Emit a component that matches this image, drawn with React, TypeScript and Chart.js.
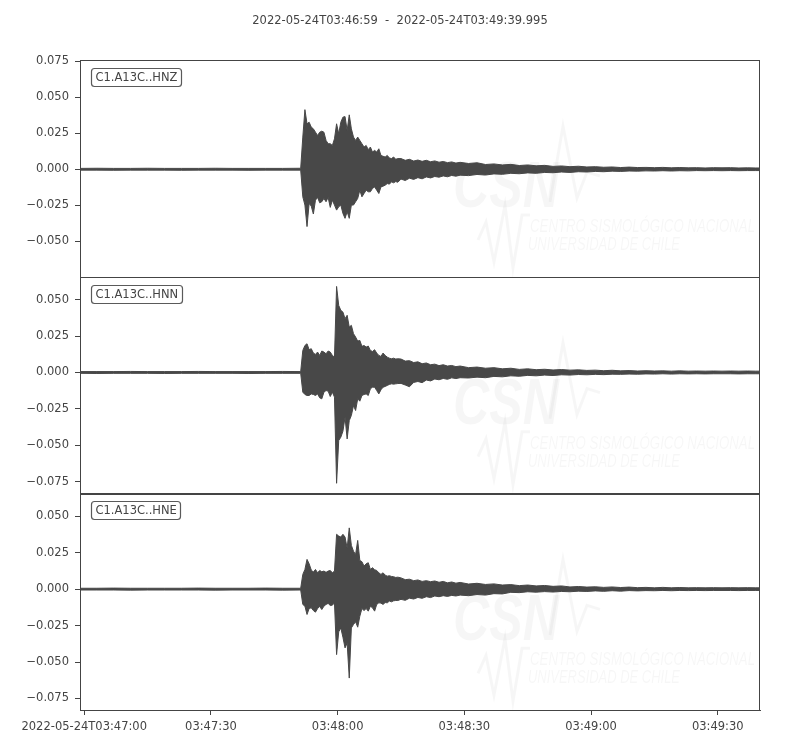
import React, { useEffect, useRef } from "react";
import { Chart, registerables } from "chart.js";

Chart.register(...registerables);

// ---------------- data ----------------
const TITLE = "2022-05-24T03:46:59  -  2022-05-24T03:49:39.995";
const CHANNELS = ["C1.A13C..HNZ", "C1.A13C..HNN", "C1.A13C..HNE"];

// seconds after 2022-05-24T03:46:59
const X_MAX_S = 160.995;
const X_TICK_S = [1, 31, 61, 91, 121, 151];
const X_TICK_LABELS = [
  "2022-05-24T03:47:00",
  "03:47:30",
  "03:48:00",
  "03:48:30",
  "03:49:00",
  "03:49:30",
];

const Y_TICKS_HNZ = [0.075, 0.05, 0.025, 0, -0.025, -0.05];
const Y_TICKS_HNN = [0.05, 0.025, 0, -0.025, -0.05, -0.075];
const Y_TICKS_HNE = [0.05, 0.025, 0, -0.025, -0.05, -0.075];
const Y_LIMITS_HNZ = [-0.0744, 0.0757];
const Y_LIMITS_HNN = [-0.0829, 0.0657];
const Y_LIMITS_HNE = [-0.0829, 0.0657];

// sample times (s) of the min/max envelope
const TIME_S = [
  0, 4, 8, 12, 16, 20, 24, 28, 32, 36, 40, 44, 48, 52.25,
  52.75, 53.25, 53.75, 54.25, 54.75, 55.25, 55.75, 56.25, 56.75, 57.25,
  57.75, 58.25, 58.75, 59.25, 59.75, 60.25, 60.75, 61.25, 61.75, 62.25,
  62.75, 63.25, 63.75, 64.25, 64.75, 65.25, 65.75, 66.25, 66.75, 67.25,
  67.75, 68.25, 68.75, 69.25, 69.75, 70.25, 70.75, 71.25, 71.75, 72.25,
  72.75, 73.25, 73.75, 74.25, 74.75, 75.25,
  76, 77, 78, 79, 80, 81, 82, 83, 84, 85, 86, 87, 88, 89, 90,
  92, 94, 96, 98, 100, 102, 104, 106, 108, 110,
  112, 114, 116, 118, 120, 122, 124, 126, 128, 130,
  132, 134, 136, 138, 140, 142, 144, 146, 148, 150,
  152, 154, 156, 158, 160, 161,
];

const HNZ_UP = [
  0.0006, 0.0007, 0.0006, 0.0006, 0.0007, 0.0006, 0.0006, 0.0006, 0.0007, 0.0006, 0.0006, 0.0006, 0.0006, 0.0007,
  0.0223, 0.0413, 0.0315, 0.0326, 0.0292, 0.028, 0.0257, 0.0234, 0.0257, 0.0264,
  0.0257, 0.02, 0.0177, 0.0177, 0.0165, 0.0211, 0.0315, 0.0246, 0.0326, 0.0361,
  0.0365, 0.0269, 0.0377, 0.028, 0.0223, 0.02, 0.0223, 0.02, 0.0177, 0.0154,
  0.0165, 0.0136, 0.0154, 0.0119, 0.0131, 0.0119, 0.0142, 0.0096, 0.009, 0.0085,
  0.0096, 0.0078, 0.0074, 0.0085, 0.0069, 0.0074,
  0.0074, 0.0062, 0.0069, 0.0057, 0.0064, 0.0055, 0.0062, 0.0052, 0.0058, 0.0049, 0.0054, 0.0046, 0.0051, 0.0043, 0.0048,
  0.004, 0.0045, 0.0033, 0.0037, 0.003, 0.0034, 0.0026, 0.003, 0.0024, 0.0027,
  0.002, 0.0023, 0.0018, 0.0021, 0.0016, 0.0018, 0.0014, 0.0016, 0.0012, 0.0015,
  0.0012, 0.0013, 0.0011, 0.0013, 0.001, 0.0012, 0.001, 0.0011, 0.0009, 0.0011,
  0.001, 0.0011, 0.0009, 0.001, 0.0009, 0.0009,
];
const HNZ_LO = [
  -0.0006, -0.0006, -0.0007, -0.0006, -0.0006, -0.0006, -0.0007, -0.0006, -0.0006, -0.0006, -0.0007, -0.0006, -0.0006, -0.0006,
  -0.0191, -0.0248, -0.0397, -0.0237, -0.0255, -0.031, -0.0214, -0.0195, -0.0232, -0.0225,
  -0.0202, -0.0225, -0.0195, -0.0264, -0.0214, -0.0248, -0.0283, -0.026, -0.0248, -0.0306,
  -0.034, -0.0294, -0.034, -0.0248, -0.0248, -0.0225, -0.0202, -0.0145, -0.0191, -0.0168,
  -0.0145, -0.0156, -0.0156, -0.0133, -0.0122, -0.0145, -0.0168, -0.0122, -0.0117, -0.011,
  -0.0099, -0.0103, -0.0087, -0.0094, -0.0085, -0.009,
  -0.0068, -0.0078, -0.0062, -0.007, -0.0058, -0.0066, -0.0053, -0.006, -0.005, -0.0055, -0.0046, -0.0052, -0.0043, -0.0048, -0.0041,
  -0.0044, -0.0036, -0.004, -0.0032, -0.0035, -0.0028, -0.0031, -0.0025, -0.0028, -0.0022,
  -0.0024, -0.0019, -0.0022, -0.0017, -0.0019, -0.0015, -0.0017, -0.0013, -0.0015, -0.0012,
  -0.0013, -0.0011, -0.0012, -0.001, -0.0012, -0.001, -0.0011, -0.0009, -0.001, -0.0009,
  -0.001, -0.0009, -0.001, -0.0009, -0.0009, -0.0009,
];

const HNN_UP = [
  0.0006, 0.0006, 0.0006, 0.0007, 0.0006, 0.0006, 0.0006, 0.0007, 0.0006, 0.0006, 0.0006, 0.0006, 0.0007, 0.0006,
  0.0151, 0.0185, 0.0197, 0.0156, 0.0163, 0.0133, 0.0124, 0.014, 0.0117, 0.0147,
  0.014, 0.0128, 0.0147, 0.014, 0.0117, 0.0105, 0.059, 0.046, 0.0426, 0.0414,
  0.0369, 0.0392, 0.0311, 0.0323, 0.0266, 0.0243, 0.0215, 0.022, 0.0179, 0.0185,
  0.0174, 0.0181, 0.0151, 0.0144, 0.0156, 0.0133, 0.0117, 0.011, 0.0133, 0.0117,
  0.0105, 0.0098, 0.0094, 0.0098, 0.0092, 0.0094,
  0.0092, 0.0078, 0.0081, 0.0068, 0.0073, 0.006, 0.0065, 0.0053, 0.0057, 0.0047, 0.0053, 0.0044, 0.0048, 0.004, 0.0044,
  0.0033, 0.0037, 0.0029, 0.0033, 0.0025, 0.0029, 0.0021, 0.0025, 0.0019, 0.0022,
  0.0017, 0.002, 0.0016, 0.0018, 0.0014, 0.0016, 0.0012, 0.0015, 0.0011, 0.0013,
  0.001, 0.0012, 0.001, 0.0011, 0.0009, 0.0011, 0.0009, 0.001, 0.0009, 0.001,
  0.0009, 0.001, 0.0009, 0.001, 0.0009, 0.0009,
];
const HNN_LO = [
  -0.0006, -0.0007, -0.0006, -0.0006, -0.0006, -0.0007, -0.0006, -0.0006, -0.0006, -0.0006, -0.0007, -0.0006, -0.0006, -0.0006,
  -0.0135, -0.0151, -0.0158, -0.0158, -0.0147, -0.0151, -0.0158, -0.0147, -0.0174, -0.0181,
  -0.0135, -0.0124, -0.0128, -0.0165, -0.0135, -0.0169, -0.076, -0.0467, -0.0444, -0.0403,
  -0.0307, -0.0456, -0.033, -0.0295, -0.0227, -0.0261, -0.0181, -0.0197, -0.0158, -0.0151,
  -0.0147, -0.0158, -0.0112, -0.0101, -0.0101, -0.0124, -0.0147, -0.0119, -0.0101, -0.0096,
  -0.0089, -0.0082, -0.0078, -0.008, -0.0078, -0.0076,
  -0.0075, -0.0086, -0.0098, -0.0068, -0.0062, -0.007, -0.0052, -0.0058, -0.0045, -0.005, -0.0041, -0.0047, -0.0037, -0.0042, -0.0036,
  -0.0038, -0.0032, -0.0036, -0.0027, -0.003, -0.0023, -0.0026, -0.002, -0.0023, -0.0018,
  -0.0021, -0.0016, -0.0018, -0.0014, -0.0016, -0.0013, -0.0015, -0.0012, -0.0013, -0.0011,
  -0.0012, -0.001, -0.0011, -0.0009, -0.0011, -0.0009, -0.001, -0.0009, -0.001, -0.0009,
  -0.0009, -0.0009, -0.001, -0.0009, -0.0009, -0.0009,
];

const HNE_UP = [
  0.0006, 0.0006, 0.0007, 0.0006, 0.0006, 0.0006, 0.0006, 0.0007, 0.0006, 0.0006, 0.0006, 0.0007, 0.0006, 0.0006,
  0.0101, 0.0135, 0.0204, 0.0174, 0.0131, 0.0117, 0.0135, 0.0112, 0.0128, 0.0119,
  0.0124, 0.0115, 0.0124, 0.0128, 0.0112, 0.0124, 0.0376, 0.0364, 0.0357, 0.0376,
  0.0357, 0.028, 0.042, 0.03, 0.026, 0.0238, 0.0334, 0.0197, 0.0188, 0.0158,
  0.0174, 0.0181, 0.0135, 0.0147, 0.0133, 0.0128, 0.0112, 0.0101, 0.0112, 0.0096,
  0.0089, 0.0092, 0.0087, 0.0085, 0.008, 0.0082,
  0.0077, 0.0065, 0.0068, 0.0058, 0.0063, 0.0053, 0.0058, 0.0051, 0.0056, 0.0047, 0.0053, 0.0043, 0.0049, 0.0041, 0.0046,
  0.0035, 0.004, 0.0032, 0.0036, 0.0028, 0.0031, 0.0024, 0.0028, 0.0022, 0.0025,
  0.0019, 0.0022, 0.0015, 0.0018, 0.0014, 0.0016, 0.0012, 0.0015, 0.0011, 0.0014,
  0.001, 0.0012, 0.0009, 0.0012, 0.0009, 0.0011, 0.0009, 0.001, 0.0009, 0.001,
  0.0009, 0.001, 0.0009, 0.001, 0.0009, 0.0009,
];
const HNE_LO = [
  -0.0006, -0.0006, -0.0006, -0.0007, -0.0006, -0.0006, -0.0006, -0.0006, -0.0007, -0.0006, -0.0006, -0.0006, -0.0007, -0.0006,
  -0.0105, -0.0117, -0.0174, -0.0133, -0.0128, -0.0147, -0.0158, -0.0133, -0.0119, -0.014,
  -0.0117, -0.0105, -0.0098, -0.0112, -0.011, -0.0094, -0.0449, -0.0293, -0.0266, -0.033,
  -0.0403, -0.037, -0.061, -0.0266, -0.0243, -0.0224, -0.0261, -0.0186, -0.0133, -0.0147,
  -0.0133, -0.0151, -0.0117, -0.0128, -0.0151, -0.0105, -0.0094, -0.0096, -0.0105, -0.0092,
  -0.0094, -0.0082, -0.0087, -0.008, -0.0078, -0.0078,
  -0.007, -0.0077, -0.0062, -0.0068, -0.0057, -0.0063, -0.0052, -0.0058, -0.0047, -0.0052, -0.0045, -0.005, -0.0043, -0.0047, -0.0041,
  -0.0045, -0.0037, -0.0041, -0.0031, -0.0033, -0.0022, -0.0024, -0.0018, -0.0021, -0.0017,
  -0.002, -0.0016, -0.0018, -0.0014, -0.0016, -0.0012, -0.0015, -0.0011, -0.0014, -0.001,
  -0.0012, -0.001, -0.0011, -0.0009, -0.0011, -0.0009, -0.001, -0.0009, -0.001, -0.0009,
  -0.0009, -0.0009, -0.001, -0.0009, -0.0009, -0.0009,
];

// ---------------- styles ----------------
const FONT = '"DejaVu Sans", sans-serif';
const FONT_SIZE = 11.5;
const TEXT_COLOR = "#444444";
const AXIS_COLOR = "#444444";
const TRACE_COLOR = "#484848";
const WATERMARK = "rgba(0,0,0,0.035)";

const fmtY = (v: number) => (v < 0 ? "\u2212" : "") + Math.abs(v).toFixed(3);

function drawWatermark(ctx: CanvasRenderingContext2D, left: number, top: number) {
  ctx.save();
  ctx.fillStyle = WATERMARK;
  ctx.strokeStyle = WATERMARK;
  ctx.textBaseline = "alphabetic";
  ctx.textAlign = "left";
  ctx.font = 'italic bold 64px "Liberation Sans", sans-serif';
  ctx.fillText("CSN", left + 373, top + 147, 106);
  ctx.lineWidth = 3;
  ctx.lineJoin = "miter";
  ctx.beginPath();
  ctx.moveTo(left + 470, top + 142);
  ctx.lineTo(left + 483, top + 66);
  ctx.lineTo(left + 497, top + 138);
  ctx.lineTo(left + 507, top + 112);
  ctx.lineTo(left + 520, top + 116);
  ctx.stroke();
  ctx.beginPath();
  ctx.moveTo(left + 398, top + 180);
  ctx.lineTo(left + 406, top + 162);
  ctx.lineTo(left + 414, top + 202);
  ctx.lineTo(left + 425, top + 145);
  ctx.lineTo(left + 433, top + 208);
  ctx.lineTo(left + 442, top + 155);
  ctx.lineTo(left + 450, top + 155);
  ctx.stroke();
  ctx.font = 'italic 18px "Liberation Sans Narrow", "Liberation Sans", sans-serif';
  ctx.fillText("CENTRO SISMOLÓGICO NACIONAL", left + 450, top + 172, 225);
  ctx.fillText("UNIVERSIDAD DE CHILE", left + 448, top + 190, 152);
  ctx.restore();
}

const Y_IDS = ["yHNZ", "yHNN", "yHNE"];

const decorPlugin = {
  id: "seisDecor",
  beforeDatasetsDraw(chart: any) {
    const ctx = chart.ctx as CanvasRenderingContext2D;
    const area = chart.chartArea;
    ctx.save();
    ctx.beginPath();
    ctx.rect(area.left, area.top, area.right - area.left, area.bottom - area.top);
    ctx.clip();
    for (const id of Y_IDS) {
      const s = chart.scales[id];
      drawWatermark(ctx, area.left, s.top);
    }
    ctx.restore();
  },
  afterDatasetsDraw(chart: any) {
    const ctx = chart.ctx as CanvasRenderingContext2D;
    const area = chart.chartArea;
    ctx.save();
    ctx.strokeStyle = AXIS_COLOR;
    ctx.lineWidth = 1;
    Y_IDS.forEach((id, i) => {
      const s = chart.scales[id];
      ctx.strokeRect(
        Math.round(area.left) + 0.5,
        Math.round(s.top) + 0.5,
        Math.round(area.right - area.left) - 1,
        Math.round(s.bottom - s.top)
      );
      // channel label box
      ctx.font = `${FONT_SIZE}px ${FONT}`;
      const text = CHANNELS[i];
      const tw = ctx.measureText(text).width;
      const bx = Math.round(area.left + 11) + 0.5;
      const by = Math.round(s.top + 8) + 0.5;
      const bw = Math.round(tw + 8);
      const bh = 18;
      ctx.beginPath();
      (ctx as any).roundRect(bx, by, bw, bh, 3);
      ctx.fillStyle = "#ffffff";
      ctx.fill();
      ctx.strokeStyle = "#5a5a5a";
      ctx.lineWidth = 1.2;
      ctx.stroke();
      ctx.fillStyle = TEXT_COLOR;
      ctx.textBaseline = "middle";
      ctx.textAlign = "left";
      ctx.fillText(text, bx + 4, by + bh / 2 + 0.5);
      ctx.strokeStyle = AXIS_COLOR;
      ctx.lineWidth = 1;
    });
    ctx.restore();
  },
  afterDraw(chart: any) {
    const ctx = chart.ctx as CanvasRenderingContext2D;
    ctx.save();
    ctx.font = `${FONT_SIZE}px ${FONT}`;
    ctx.fillStyle = TEXT_COLOR;
    ctx.textAlign = "center";
    ctx.textBaseline = "middle";
    ctx.fillText(TITLE, chart.width / 2, 21);
    ctx.restore();
  },
};

function makeTrace(up: number[], lo: number[], yId: string, name: string) {
  const common = {
    yAxisID: yId,
    borderColor: TRACE_COLOR,
    backgroundColor: TRACE_COLOR,
    borderWidth: 1,
    pointRadius: 0,
    pointHoverRadius: 0,
    tension: 0,
  };
  return [
    {
      ...common,
      label: name + " max",
      data: TIME_S.map((t, i) => ({ x: t, y: up[i] })),
      fill: "+1",
    },
    {
      ...common,
      label: name + " min",
      data: TIME_S.map((t, i) => ({ x: t, y: lo[i] })),
      fill: false,
    },
  ];
}

function yScale(ticks: number[], limits: number[], weight: number) {
  return {
    type: "linear",
    position: "left",
    stack: "panels",
    stackWeight: 1,
    weight,
    min: limits[0],
    max: limits[1],
    afterBuildTicks: (scale: any) => {
      scale.ticks = ticks.map((v) => ({ value: v }));
    },
    afterFit: (scale: any) => {
      scale.width = 80;
    },
    ticks: {
      autoSkip: false,
      color: TEXT_COLOR,
      font: { size: FONT_SIZE, family: FONT },
      padding: 6,
      callback: (v: number) => fmtY(v),
    },
    grid: {
      drawOnChartArea: false,
      drawTicks: true,
      tickLength: 5,
      color: AXIS_COLOR,
      tickColor: AXIS_COLOR,
    },
    border: { display: true, color: AXIS_COLOR, width: 1 },
  };
}

export default function App() {
  const canvasRef = useRef<HTMLCanvasElement | null>(null);

  useEffect(() => {
    if (!canvasRef.current) return;
    const datasets = [
      ...makeTrace(HNZ_UP, HNZ_LO, "yHNZ", CHANNELS[0]),
      ...makeTrace(HNN_UP, HNN_LO, "yHNN", CHANNELS[1]),
      ...makeTrace(HNE_UP, HNE_LO, "yHNE", CHANNELS[2]),
    ];
    const chart = new Chart(canvasRef.current, {
      type: "line",
      data: { datasets } as any,
      options: {
        responsive: false,
        animation: false,
        devicePixelRatio: 1,
        layout: { padding: { left: 0, right: 40, top: 60, bottom: 0 } },
        plugins: {
          legend: { display: false },
          tooltip: { enabled: false },
          title: { display: false },
        },
        events: [],
        scales: {
          x: {
            type: "linear",
            position: "bottom",
            min: 0,
            max: X_MAX_S,
            afterBuildTicks: (scale: any) => {
              scale.ticks = X_TICK_S.map((v) => ({ value: v }));
            },
            afterFit: (scale: any) => {
              scale.height = 40;
            },
            ticks: {
              autoSkip: false,
              maxRotation: 0,
              minRotation: 0,
              color: TEXT_COLOR,
              font: { size: FONT_SIZE, family: FONT },
              padding: 5,
              callback: (_v: any, i: number) => X_TICK_LABELS[i],
            },
            grid: {
              drawOnChartArea: false,
              drawTicks: true,
              tickLength: 5,
              color: AXIS_COLOR,
              tickColor: AXIS_COLOR,
            },
            border: { display: true, color: AXIS_COLOR, width: 1 },
          },
          yHNZ: yScale(Y_TICKS_HNZ, Y_LIMITS_HNZ, 3),
          yHNN: yScale(Y_TICKS_HNN, Y_LIMITS_HNN, 2),
          yHNE: yScale(Y_TICKS_HNE, Y_LIMITS_HNE, 1),
        } as any,
      },
      plugins: [decorPlugin],
    });
    return () => chart.destroy();
  }, []);

  return (
    <div style={{ position: "absolute", left: 0, top: 0, width: 800, height: 750, background: "#ffffff" }}>
      <canvas ref={canvasRef} width={800} height={750} style={{ width: 800, height: 750, display: "block" }} />
    </div>
  );
}
